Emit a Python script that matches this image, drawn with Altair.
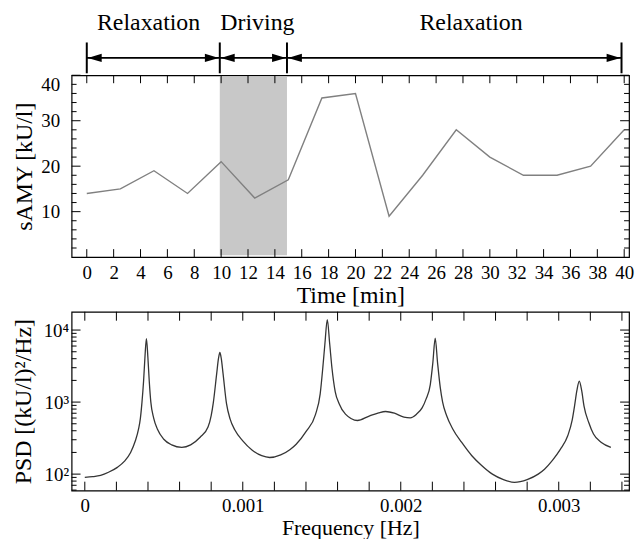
import altair as alt
import pandas as pd

FONT = "Liberation Serif"

# ---- top panel data ----
time_min = [0, 2.5, 5, 7.5, 10, 12.5, 15, 17.5, 20, 22.5, 25, 27.5, 30, 32.5, 35, 37.5, 40]
samy = [14, 15, 19, 14, 21, 13, 17, 35, 36, 9, 18, 28, 22, 18, 18, 20, 28]

phase_start = [0, 9.9, 14.9]
phase_end = [9.9, 14.9, 39.8]
phase_label = ["Relaxation", "Driving", "Relaxation"]
phase_label_x = [4.6, 12.7, 28.6]
phase_bars = [0, 9.9, 14.9, 39.8]
band_x = [9.9, 14.9]
band_y = [0.4, 39.6]

time_ticks = [0, 2, 4, 6, 8, 10, 12, 14, 16, 18, 20, 22, 24, 26, 28, 30, 32, 34, 36, 38, 40]
samy_major = [10, 20, 30, 40]
samy_minor = [2, 4, 6, 8, 12, 14, 16, 18, 22, 24, 26, 28, 32, 34, 36, 38]

# ---- bottom panel data ----
freq_hz = [0.0, 0.00005, 0.0001, 0.00015, 0.000206, 0.00025, 0.00029, 0.00032, 0.00034, 0.000352,
           0.000362, 0.000372, 0.000381, 0.00039, 0.000399, 0.000408, 0.000418, 0.000436, 0.00046, 0.0005,
           0.00055, 0.000614, 0.00067, 0.00073, 0.00078, 0.0008, 0.000814, 0.000835, 0.000846, 0.000855,
           0.000864, 0.000875, 0.000897, 0.00092, 0.00095, 0.001, 0.00106, 0.00112, 0.00117, 0.00124,
           0.0013, 0.001338, 0.0014, 0.00146, 0.00149, 0.001506, 0.00152, 0.001535, 0.00155, 0.001565,
           0.001585, 0.00161, 0.00165, 0.001726, 0.0018, 0.00186, 0.001904, 0.00196, 0.00202, 0.00206,
           0.0021, 0.002135, 0.00216, 0.002187, 0.002203, 0.002218, 0.002233, 0.00225, 0.002265, 0.00229,
           0.00233, 0.002386, 0.00245, 0.002512, 0.00258, 0.00265, 0.00272, 0.0028, 0.00287, 0.00291,
           0.00296, 0.00301, 0.003057, 0.003085, 0.0031, 0.003115, 0.00313, 0.003145, 0.00316, 0.00319,
           0.00322, 0.00327, 0.00333]
psd = [90, 92, 96, 106, 124, 150, 200, 290, 420, 600,
       1000, 1950, 4300, 7600, 4300, 1950, 1000, 600, 420, 305,
       255, 235, 255, 325, 450, 650, 1000, 2500, 4000, 4900,
       4000, 2500, 950, 580, 410, 290, 215, 180, 170, 185,
       220, 260, 390, 670, 1300, 2900, 6500, 14000, 6500, 2900,
       1400, 950, 680, 555, 640, 710, 740, 700, 620, 605,
       680, 830, 1100, 1750, 3500, 7700, 3500, 1600, 1000, 650,
       420, 275, 180, 132, 100, 84, 77, 84, 100, 117,
       155, 220, 340, 560, 880, 1450, 1950, 1450, 880, 520,
       360, 275, 235]

freq_major = [0, 0.001, 0.002, 0.003]
freq_ticks = [0, 0.0002, 0.0004, 0.0006, 0.0008, 0.001, 0.0012, 0.0014, 0.0016, 0.0018,
              0.002, 0.0022, 0.0024, 0.0026, 0.0028, 0.003, 0.0032, 0.0034]
psd_major = [100, 1000, 10000]
psd_minor = [60, 70, 80, 90, 200, 300, 400, 500, 600, 700, 800, 900,
             2000, 3000, 4000, 5000, 6000, 7000, 8000, 9000]

W = 561
H_TOP = 183
H_BOT = 180


def x_ticks(values, scale, h, size):
    df = pd.DataFrame({"v": values})
    bot = alt.Chart(df).mark_rule(color="black", strokeWidth=1).encode(
        x=alt.X("v:Q", scale=scale, axis=None), y=alt.value(h), y2=alt.value(h - size))
    top = alt.Chart(df).mark_rule(color="black", strokeWidth=1).encode(
        x=alt.X("v:Q", scale=scale, axis=None), y=alt.value(0), y2=alt.value(size))
    return [bot, top]


def y_ticks(values, scale, w, size):
    df = pd.DataFrame({"v": values})
    left = alt.Chart(df).mark_rule(color="black", strokeWidth=1).encode(
        y=alt.Y("v:Q", scale=scale, axis=None), x=alt.value(0), x2=alt.value(size))
    right = alt.Chart(df).mark_rule(color="black", strokeWidth=1).encode(
        y=alt.Y("v:Q", scale=scale, axis=None), x=alt.value(w), x2=alt.value(w - size))
    return [left, right]


# ---------------- top panel ----------------
top_df = pd.DataFrame({"t": time_min, "v": samy})
xs_top = alt.Scale(domain=[-1.13, 40.36], nice=False, zero=False)
ys_top = alt.Scale(domain=[0, 40], nice=False, zero=False)

band = alt.Chart(pd.DataFrame({"x1": [band_x[0]], "x2": [band_x[1]],
                               "y1": [band_y[0]], "y2": [band_y[1]]})).mark_rect(
    color="#c8c8c8").encode(
    x=alt.X("x1:Q", scale=xs_top, axis=None), x2="x2:Q",
    y=alt.Y("y1:Q", scale=ys_top, axis=None), y2="y2:Q")

line_top = alt.Chart(top_df).mark_line(color="#808080", strokeWidth=1.4).encode(
    x=alt.X("t:Q", scale=xs_top,
            axis=alt.Axis(orient="bottom", values=time_ticks, ticks=False, tickSize=0, domain=False,
                          grid=False, labelPadding=7, title="Time [min]", titlePadding=1)),
    y=alt.Y("v:Q", scale=ys_top,
            axis=alt.Axis(orient="left", values=samy_major, ticks=False, tickSize=0, domain=False,
                          grid=False, labelPadding=12, labelFlush=True, title="sAMY [kU/l]",
                          titlePadding=4)),
)

seg_df = pd.DataFrame({"s": phase_start, "e": phase_end, "lab": phase_label, "lx": phase_label_x})
bar_df = pd.DataFrame({"b": phase_bars})

arrows = alt.Chart(seg_df).mark_rule(color="black", strokeWidth=2).encode(
    x=alt.X("s:Q", scale=xs_top, axis=None), x2="e:Q", y=alt.value(-17.5))
bars = alt.Chart(bar_df).mark_rule(color="black", strokeWidth=2).encode(
    x=alt.X("b:Q", scale=xs_top, axis=None), y=alt.value(-33), y2=alt.value(-2))
head_l = alt.Chart(seg_df).mark_point(shape="M -1 0 L 1 -0.6 L 1 0.6 Z", size=196, filled=True,
                                      color="black", opacity=1, xOffset=8).encode(
    x=alt.X("s:Q", scale=xs_top, axis=None), y=alt.value(-17.5))
head_r = alt.Chart(seg_df).mark_point(shape="M 1 0 L -1 -0.6 L -1 0.6 Z", size=196, filled=True,
                                      color="black", opacity=1, xOffset=-8).encode(
    x=alt.X("e:Q", scale=xs_top, axis=None), y=alt.value(-17.5))
texts = alt.Chart(seg_df).mark_text(font=FONT, fontSize=24, baseline="middle", align="center",
                                    color="black").encode(
    x=alt.X("lx:Q", scale=xs_top, axis=None), y=alt.value(-53), text="lab:N")

top = alt.layer(
    band, line_top,
    *x_ticks(time_ticks, xs_top, H_TOP, 8),
    *y_ticks(samy_major, ys_top, W, 9),
    *y_ticks(samy_minor, ys_top, W, 5),
    arrows, bars, head_l, head_r, texts,
).resolve_axis(x="independent", y="independent").properties(width=W, height=H_TOP)

# ---------------- bottom panel ----------------
bot_df = pd.DataFrame({"f": freq_hz, "p": psd})
xs_bot = alt.Scale(domain=[-0.0000836, 0.003445], nice=False, zero=False)
ys_bot = alt.Scale(type="log", domain=[59, 17950], nice=False)

line_bot = alt.Chart(bot_df).mark_line(color="#353535", strokeWidth=1.3, interpolate="monotone").encode(
    x=alt.X("f:Q", scale=xs_bot,
            axis=alt.Axis(orient="bottom", values=freq_major, ticks=False, tickSize=0, domain=False,
                          grid=False, labelPadding=6,
                          labelExpr="datum.value == 0 ? '0' : format(datum.value, '.3f')",
                          title="Frequency [Hz]", titlePadding=2, titleFontSize=22)),
    y=alt.Y("p:Q", scale=ys_bot,
            axis=alt.Axis(orient="left", values=psd_major, ticks=False, tickSize=0, domain=False,
                          grid=False, labelPadding=3,
                          labelExpr="datum.value >= 9999 ? '10\u2074' : (datum.value >= 999 ? '10\u00b3' : '10\u00b2')",
                          title="PSD [(kU/l)\u00b2/Hz]", titlePadding=8)),
)

bottom = alt.layer(
    line_bot,
    *x_ticks(freq_ticks, xs_bot, H_BOT, 9),
    *y_ticks(psd_major, ys_bot, W, 9),
    *y_ticks(psd_minor, ys_bot, W, 5),
).resolve_axis(x="independent", y="independent").properties(width=W, height=H_BOT)

chart = alt.vconcat(top, bottom, spacing=55, bounds="flush").properties(
    padding={"left": 2, "top": 0, "right": 0, "bottom": -2},
    background="white",
).configure_view(stroke="black", strokeWidth=1.2).configure_axis(
    labelFont=FONT, labelFontSize=19, labelColor="black",
    titleFont=FONT, titleFontSize=24, titleFontWeight="normal", titleColor="black",
)

chart.save("out.html", embed_options={"renderer": "svg", "actions": False})
